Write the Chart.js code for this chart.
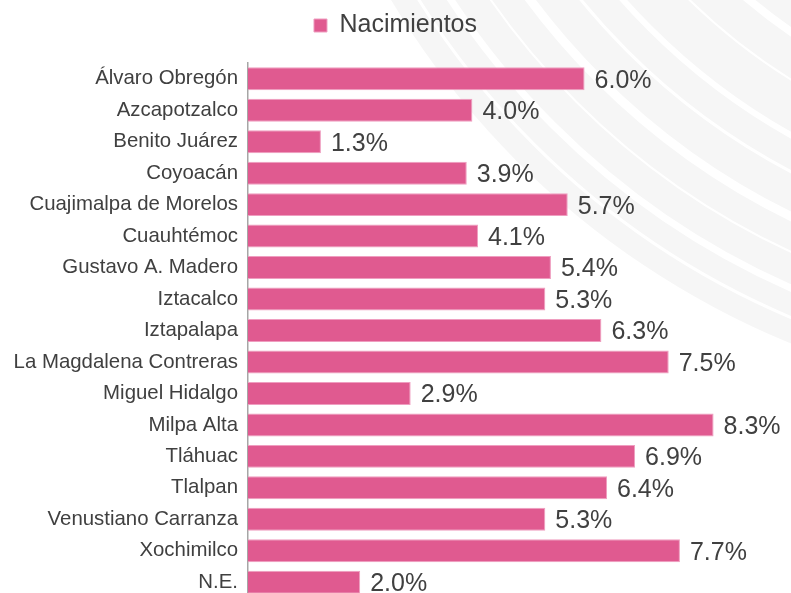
<!DOCTYPE html>
<html>
<head>
<meta charset="utf-8">
<script src="https://cdn.jsdelivr.net/npm/chart.js@4.4.1/dist/chart.umd.min.js"></script>
<style>
html, body { margin: 0; padding: 0; overflow: hidden; background: #ffffff; width: 791px; height: 593px; }
#wrap { position: absolute; left: 0; top: 0; width: 791px; height: 598px; }
</style>
</head>
<body>
<div id="wrap"><canvas id="c" width="791" height="598"></canvas></div>
<script>
const categories = ['Álvaro Obregón','Azcapotzalco','Benito Juárez','Coyoacán','Cuajimalpa de Morelos','Cuauhtémoc','Gustavo A. Madero','Iztacalco','Iztapalapa','La Magdalena Contreras','Miguel Hidalgo','Milpa Alta','Tláhuac','Tlalpan','Venustiano Carranza','Xochimilco','N.E.'];
const nacimientos = [6.0, 4.0, 1.3, 3.9, 5.7, 4.1, 5.4, 5.3, 6.3, 7.5, 2.9, 8.3, 6.9, 6.4, 5.3, 7.7, 2.0];
const seriesName = 'Nacimientos';

const FONT = "'Liberation Sans', Arial, Helvetica, sans-serif";
const TEXT = '#404040';

const bgPlugin = {
  id: 'bgDeco',
  beforeDraw(chart) {
    const ctx = chart.ctx;
    ctx.save();
    ctx.fillStyle = '#ffffff';
    ctx.fillRect(0, 0, chart.width, chart.height);
    const cx = 1108, cy = -430;
    ctx.beginPath();
    ctx.arc(cx, cy, 836, 0, Math.PI * 2);
    ctx.fillStyle = '#f6f6f6';
    ctx.fill();
    const arcs = [[812, 3], [785, 7], [752, 2], [720, 9], [680, 3], [648, 6], [600, 2], [560, 8], [515, 3], [470, 6]];
    ctx.strokeStyle = '#ffffff';
    arcs.forEach(([r, w]) => {
      ctx.beginPath();
      ctx.lineWidth = w;
      ctx.arc(cx, cy, r, 0, Math.PI * 2);
      ctx.stroke();
    });
    ctx.restore();
  }
};

const valueLabels = {
  id: 'valueLabels',
  afterDatasetsDraw(chart) {
    const ctx = chart.ctx;
    const meta = chart.getDatasetMeta(0);
    ctx.save();
    ctx.font = '25px ' + FONT;
    ctx.fillStyle = TEXT;
    ctx.textAlign = 'left';
    ctx.textBaseline = 'middle';
    meta.data.forEach((bar, i) => {
      const v = chart.data.datasets[0].data[i];
      ctx.fillText(v.toFixed(1) + '%', bar.x + 10, bar.y + 2);
    });
    ctx.restore();
  }
};

const legendMargin = {
  id: 'legendMargin',
  beforeInit(chart) {
    const origFit = chart.legend.fit;
    chart.legend.fit = function () {
      origFit.bind(chart.legend)();
      this.height += 15;
    };
  }
};

new Chart(document.getElementById('c'), {
  type: 'bar',
  data: {
    labels: categories,
    datasets: [{
      label: seriesName,
      data: nacimientos,
      backgroundColor: '#e05a90',
      borderColor: '#ef9ec0',
      borderWidth: 1,
      categoryPercentage: 1.0,
      barPercentage: 0.73
    }]
  },
  options: {
    indexAxis: 'y',
    responsive: false,
    devicePixelRatio: 1,
    animation: false,
    layout: { padding: { left: 0, right: 0, top: 3, bottom: 0 } },
    plugins: {
      legend: {
        display: true,
        position: 'top',
        labels: {
          boxWidth: 13,
          boxHeight: 13,
          padding: 10,
          color: TEXT,
          font: { family: FONT, size: 25 }
        }
      },
      tooltip: { enabled: false }
    },
    scales: {
      x: {
        display: false,
        min: 0,
        max: 9.68
      },
      y: {
        grid: { display: false, drawTicks: false },
        border: { display: true, color: '#a6a6a6', width: 1.5 },
        ticks: {
          color: TEXT,
          padding: 10,
          font: { family: FONT, size: 20.4 }
        },
        afterFit(scale) {
          scale.width = 248;
          scale.paddingTop = 0;
          scale.paddingBottom = 0;
        }
      }
    }
  },
  plugins: [bgPlugin, valueLabels, legendMargin]
});
</script>
</body>
</html>
